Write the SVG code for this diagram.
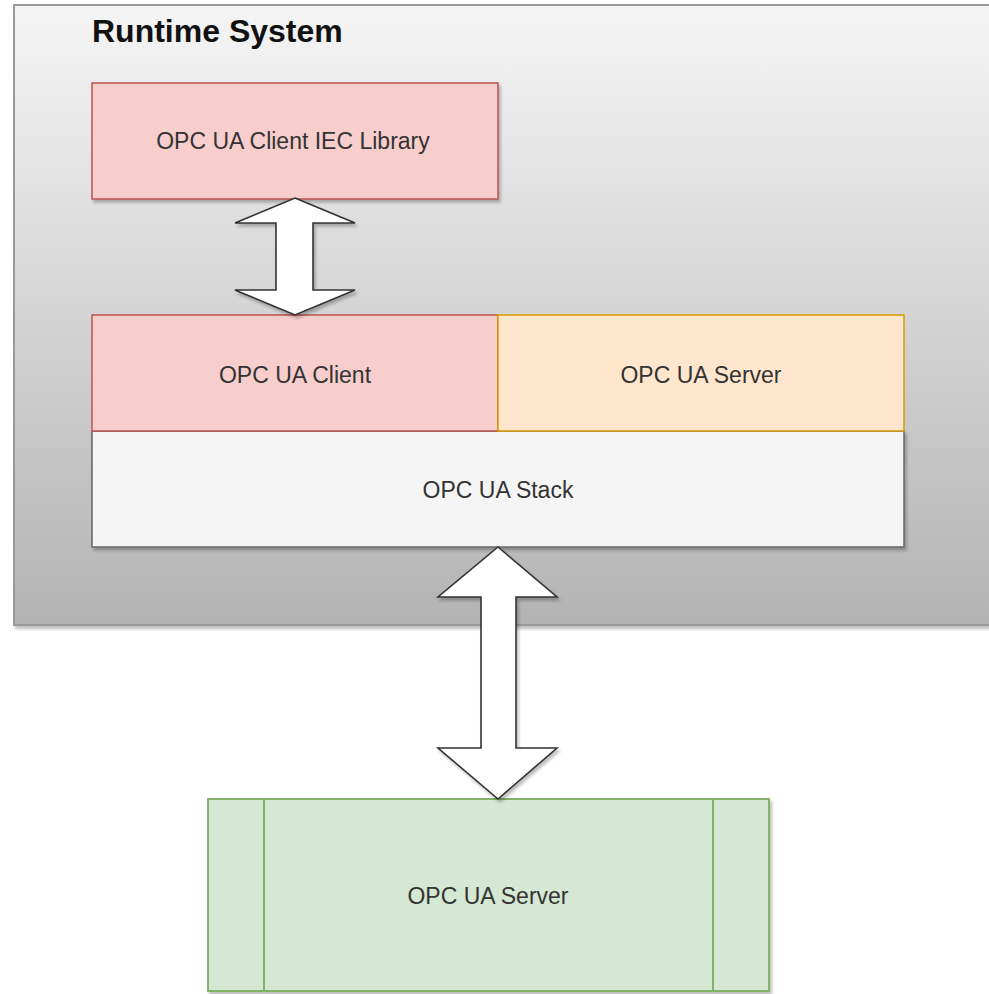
<svg xmlns="http://www.w3.org/2000/svg" width="989" height="994" viewBox="0 0 989 994">
  <style>
    .lbl { font-family: "Liberation Sans", Arial, sans-serif; font-size: 23px; fill: #333333; text-anchor: middle; }
    .title { font-family: "Liberation Sans", Arial, sans-serif; font-size: 32px; font-weight: bold; fill: #111111; }
    .red { fill: #f8cecc; stroke: #b85450; stroke-width: 1.5; }
    .orange { fill: #ffe6cc; stroke: #d79b00; stroke-width: 1.5; }
    .gray { fill: #f5f5f5; stroke: #666666; stroke-width: 1.5; }
    .green { fill: #d5e8d4; stroke: #82b366; stroke-width: 2; }
    .arrow { fill: #ffffff; stroke: #333333; stroke-width: 1.6; stroke-linejoin: miter; }
  </style>
  <defs>
    <linearGradient id="bgGrad" x1="0" y1="0" x2="0" y2="1">
      <stop offset="0" stop-color="#f5f5f5"/>
      <stop offset="1" stop-color="#b3b3b3"/>
    </linearGradient>
    <filter id="shadow" x="-10%" y="-10%" width="130%" height="130%">
      <feDropShadow dx="2" dy="3" stdDeviation="1.5" flood-color="#000" flood-opacity="0.25"/>
    </filter>
  </defs>
  <rect width="989" height="994" fill="#ffffff"/>

  <g id="runtime-system">
    <rect x="14" y="5" width="990" height="620" fill="url(#bgGrad)" stroke="#999999" stroke-width="2" filter="url(#shadow)"/>
    <text class="title" x="92" y="42">Runtime System</text>
  </g>

  <g id="iec-library">
    <rect class="red" x="92" y="83" width="406" height="116" filter="url(#shadow)"/>
    <text class="lbl" x="293" y="149">OPC UA Client IEC Library</text>
  </g>

  <g id="opc-ua-stack">
    <rect class="gray" x="92" y="431" width="812" height="116" filter="url(#shadow)"/>
    <text class="lbl" x="498" y="498">OPC UA Stack</text>
  </g>

  <g id="opc-ua-client">
    <rect class="red" x="92" y="315" width="406" height="116"/>
    <text class="lbl" x="295" y="383">OPC UA Client</text>
  </g>

  <g id="opc-ua-server-local">
    <rect class="orange" x="498" y="315" width="406" height="116"/>
    <text class="lbl" x="701" y="383">OPC UA Server</text>
  </g>

  <g id="opc-ua-server-remote">
    <rect class="green" x="208" y="799" width="561" height="192" filter="url(#shadow)"/>
    <line x1="264" y1="799" x2="264" y2="991" stroke="#82b366" stroke-width="2"/>
    <line x1="713" y1="799" x2="713" y2="991" stroke="#82b366" stroke-width="2"/>
    <text class="lbl" x="488" y="904">OPC UA Server</text>
  </g>

  <g id="connectors">
    <polygon class="arrow" filter="url(#shadow)" points="295,198 355,223 313,223 313,290 355,290 295,315 235,290 276,290 276,223 235,223"/>
    <polygon class="arrow" filter="url(#shadow)" points="498,547 557,597 516,597 516,748 557,748 498,799 438,748 481,748 481,597 438,597"/>
  </g>
</svg>
